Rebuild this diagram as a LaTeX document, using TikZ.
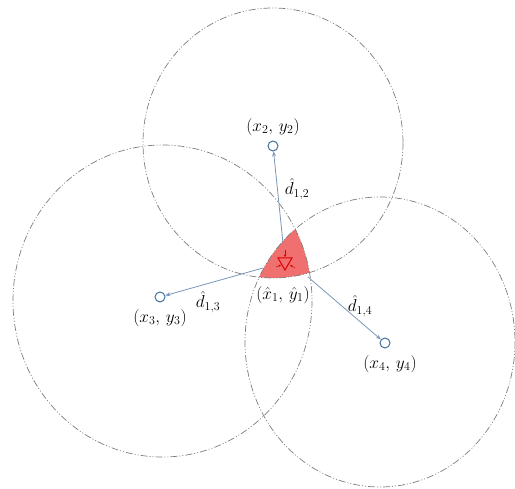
\documentclass[tikz,border=0pt]{standalone}
\usetikzlibrary{arrows.meta}
\definecolor{ringgray}{RGB}{125,125,125}
\definecolor{linkblue}{RGB}{120,150,185}
\definecolor{nodeblue}{RGB}{65,113,156}
\definecolor{regionred}{RGB}{240,112,112}
\definecolor{markred}{RGB}{220,0,0}
\tikzset{
  ring/.style={draw=ringgray, line width=0.7pt,
    dash pattern=on 7pt off 2pt on 1pt off 2pt on 1pt off 2pt},
  anchorpt/.style={circle, draw=nodeblue, fill=white, line width=1pt,
    minimum size=10pt, inner sep=0pt},
  link/.style={draw=linkblue, line width=0.8pt,
    -{Stealth[length=5pt,width=4pt]}},
  lbl/.style={font=\fontsize{17}{20}\selectfont, inner sep=0pt},
  tiny/.style={draw=markred, line width=0.5pt, -{Stealth[length=2.5pt,width=2.5pt]}}
}
\begin{document}
\begin{tikzpicture}[x=1pt,y=-1pt]
\useasboundingbox (0,0) rectangle (515,489);
% intersection region
\begin{scope}
  \clip (273,143) ellipse [x radius=130, y radius=135];
  \clip (162.5,301) ellipse [x radius=149.5, y radius=156];
  \fill[regionred] (380,342) ellipse [x radius=135, y radius=145];
\end{scope}
% range circles
\draw[ring] (273,143) ellipse [x radius=130, y radius=135];
\draw[ring] (162.5,301) ellipse [x radius=149.5, y radius=156];
\draw[ring] (380,342) ellipse [x radius=135, y radius=145];
% anchors
\node[anchorpt] (n2) at (273,146) {};
\node[anchorpt] (n3) at (160,297) {};
\node[anchorpt] (n4) at (385,343) {};
\coordinate (s2) at (283,243);
\coordinate (s3) at (263,268);
\coordinate (s4) at (308,277);
\draw[link] (s2) -- (n2);
\draw[link] (s3) -- (n3);
\draw[link] (s4) -- (n4);
% estimated position marker
\draw[markred, line width=1pt] (278,258) -- (292,258) -- (285,270) -- cycle;
\draw[tiny] (285,250) -- (285,257);
\draw[tiny] (276,267) -- (281,265);
\draw[tiny] (295,268) -- (290,265);
% labels
\node[lbl] (l2) at (273,127) {$(x_2,\,y_2)$};
\node[lbl] (l3) at (160,318) {$(x_3,\,y_3)$};
\node[lbl] (l4) at (390,364) {$(x_4,\,y_4)$};
\node[lbl] (l1) at (283,295) {$(\hat{x}_1,\,\hat{y}_1)$};
\node[lbl] (d2) at (297,189) {$\hat{d}_{1,2}$};
\node[lbl] (d3) at (208,302) {$\hat{d}_{1,3}$};
\node[lbl] (d4) at (360,306) {$\hat{d}_{1,4}$};
\end{tikzpicture}
\end{document}
